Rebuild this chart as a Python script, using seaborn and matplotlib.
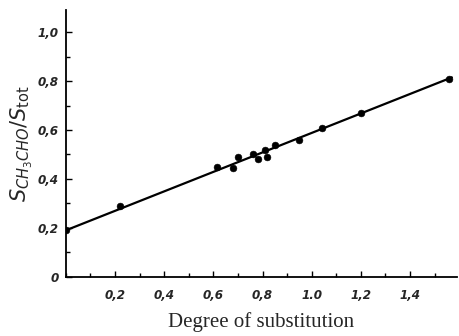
import matplotlib
matplotlib.use("Agg")
import matplotlib.pyplot as plt
import seaborn as sns
import pandas as pd
from matplotlib.ticker import MultipleLocator, FixedLocator

sns.set_style("ticks")
plt.rcParams['font.family'] = ['DejaVu Sans']

# Data
ds = [0.00, 0.22, 0.615, 0.68, 0.70, 0.76, 0.78, 0.81, 0.82, 0.85, 0.95, 1.04, 1.20, 1.56]
ratio = [0.19, 0.29, 0.45, 0.445, 0.49, 0.50, 0.48, 0.52, 0.49, 0.54, 0.56, 0.61, 0.67, 0.81]
fit_x = [0.0, 1.57]
fit_y = [0.19, 0.815]
xtick_vals = [0.2, 0.4, 0.6, 0.8, 1.0, 1.2, 1.4]
xtick_labels = ["0,2", "0,4", "0,6", "0,8", "1.0", "1,2", "1,4"]
ytick_vals = [0, 0.2, 0.4, 0.6, 0.8, 1.0]
ytick_labels = ["0", "0,2", "0,4", "0,6", "0,8", "1,0"]

pts = pd.DataFrame({"ds": ds, "ratio": ratio})
fit = pd.DataFrame({"x": fit_x, "y": fit_y})

fig = plt.figure(figsize=(4.6, 3.36), dpi=100)
ax = fig.add_axes([0.143, 0.176, 0.85, 0.794])

sns.lineplot(data=fit, x="x", y="y", color="black", linewidth=1.6, ax=ax)
sns.scatterplot(data=pts, x="ds", y="ratio", color="black", s=24, edgecolor="black", ax=ax, zorder=3)

ax.set_xlim(0, 1.59)
ax.set_ylim(0, 1.09)
sns.despine(ax=ax)
for s in ["left", "bottom"]:
    ax.spines[s].set_linewidth(1.3)
    ax.spines[s].set_color("black")

ax.xaxis.set_major_locator(FixedLocator(xtick_vals))
ax.set_xticklabels(xtick_labels)
ax.yaxis.set_major_locator(FixedLocator(ytick_vals))
ax.set_yticklabels(ytick_labels)
ax.xaxis.set_minor_locator(MultipleLocator(0.1))
ax.yaxis.set_minor_locator(MultipleLocator(0.1))
ax.tick_params(axis="both", which="both", direction="in", color="black", width=1)
ax.tick_params(axis="both", which="major", length=4)
ax.tick_params(axis="both", which="minor", length=3)
ax.tick_params(axis="x", which="major", pad=9)
ax.tick_params(axis="y", which="major", pad=5)
for lab in ax.get_xticklabels() + ax.get_yticklabels():
    lab.set_fontstyle("italic")
    lab.set_fontweight("bold")
    lab.set_fontsize(9.5)
    lab.set_fontstretch("condensed")

ax.set_xlabel("Degree of substitution", fontsize=15, family="Liberation Serif", labelpad=7)
ax.set_ylabel(r"$S_{CH_3CHO}/S_{\mathrm{tot}}$", fontsize=15, labelpad=2)

fig.savefig("out.png", dpi=100)
